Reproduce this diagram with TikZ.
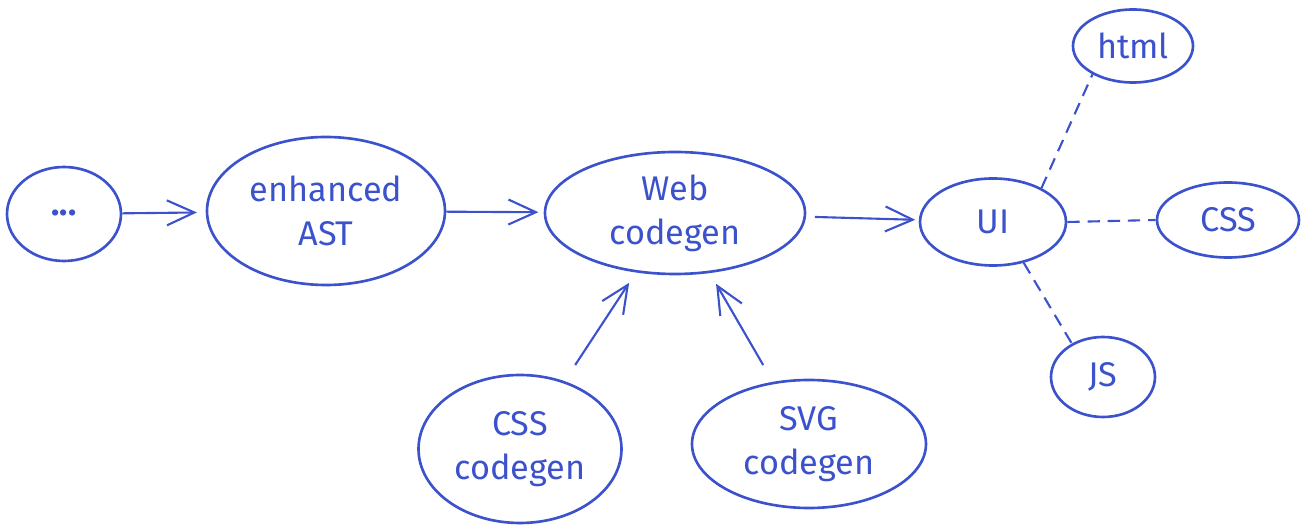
\documentclass[tikz,border=0pt]{standalone}
\usepackage{fontspec}
\setmainfont{Fira Sans}
\usepackage{tikz}
\usetikzlibrary{arrows.meta, positioning, shapes.geometric}

\definecolor{inkblue}{RGB}{59,82,204}

\begin{document}
\begin{tikzpicture}[
  x=0.02cm, y=-0.02cm,
  font=\fontsize{19.5}{25}\selectfont,
  blob/.style = {ellipse, draw=inkblue, line width=1.5pt, text=inkblue,
                 inner sep=0pt, align=center},
  arr/.style  = {-{Straight Barb[length=5.5mm, width=5mm, line width=1.2pt]},
                 line width=1.2pt, inkblue},
  darr/.style = {line width=1.2pt, inkblue, dash pattern=on 7pt off 4.5pt},
]

\useasboundingbox (0,0) rectangle (1309,526);

%% -- main chain ------------------------------------------------------------
\node[blob, minimum width=114*0.02cm, minimum height=94*0.02cm]
  (dots) at (64,214) {\bfseries\raisebox{2pt}{...}};
\node[blob, minimum width=238*0.02cm, minimum height=148*0.02cm]
  (ast) at (326,211) {enhanced\\AST};
\node[blob, minimum width=260*0.02cm, minimum height=122*0.02cm]
  (web) at (675,213) {Web\\codegen};
\node[blob, minimum width=146*0.02cm, minimum height=87*0.02cm]
  (ui) at (993,222) {UI};

%% -- outputs of UI ---------------------------------------------------------
\node[blob, minimum width=120*0.02cm, minimum height=73*0.02cm]
  (html) at (1133,46) {html};
\node[blob, minimum width=142*0.02cm, minimum height=75*0.02cm]
  (css) at (1228,220) {CSS};
\node[blob, minimum width=104*0.02cm, minimum height=80*0.02cm]
  (js) at (1103,377) {JS};

%% -- generators feeding Web codegen ----------------------------------------
\node[blob, minimum width=203*0.02cm, minimum height=148*0.02cm]
  (csscg) at (520,449) {CSS\\codegen};
\node[blob, minimum width=234*0.02cm, minimum height=128*0.02cm]
  (svgcg) at (809,444) {SVG\\codegen};

%% -- connectors ------------------------------------------------------------
\draw[arr, shorten >=5pt] (dots) -- (ast);
\draw[arr, shorten >=3pt] (ast) -- (web);
\draw[arr, shorten <=5pt, shorten >=2pt] (web) -- (ui);

\draw[arr, shorten <=11pt, shorten >=7pt] (csscg) -- (web);
\draw[arr, shorten <=11pt, shorten >=7pt] (svgcg) -- (web);

\draw[darr] (ui.35) -- (html.215);
\draw[darr] (ui.east) -- (css.west);
\draw[darr] (ui.307) -- (js.133);

\end{tikzpicture}
\end{document}
